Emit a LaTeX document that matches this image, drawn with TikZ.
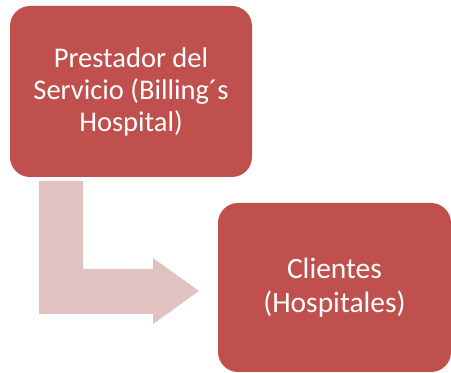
\documentclass[tikz,border=0pt]{standalone}
\usepackage{fontspec}
\setmainfont{Carlito}
\definecolor{boxred}{HTML}{C0504D}
\definecolor{arrowpink}{HTML}{E2C1C1}
\begin{document}
\begin{tikzpicture}[x=1pt,y=1pt,
  box/.style={draw=none,fill=boxred,rounded corners=20pt,text=white,align=center,
    inner sep=0pt}]
\useasboundingbox (0,0) rectangle (451,373);
% bent arrow
\fill[arrowpink] (39,373-181) -- (83,373-181) -- (83,373-269) -- (153,373-269)
  -- (153,373-258) -- (199,373-291) -- (153,373-324) -- (153,373-314)
  -- (39,373-314) -- cycle;
\node[box,minimum width=242pt,minimum height=171pt,font=\fontsize{28.5}{32}\selectfont] (a) at (131,373-91.5)
  {Prestador del\\Servicio (Billing´s\\Hospital)};
\node[box,minimum width=233pt,minimum height=169pt,font=\fontsize{29.5}{34.5}\selectfont] (b) at (334.5,373-287.5)
  {Clientes\\(Hospitales)};
\end{tikzpicture}
\end{document}
